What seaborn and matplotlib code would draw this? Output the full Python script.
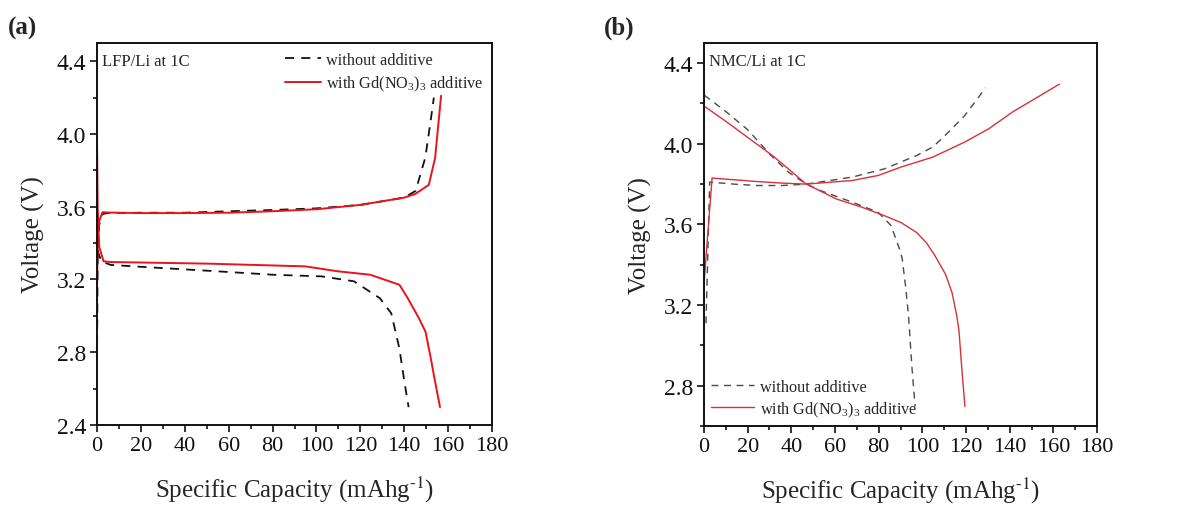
import numpy as np
import pandas as pd
import matplotlib
matplotlib.use("Agg")
import matplotlib.pyplot as plt
from matplotlib.ticker import MultipleLocator
import seaborn as sns

# (a) LFP/Li at 1C  -- capacity (mAh/g), voltage (V)
lfp_chg_wo_x = [0, 0.3, 1.0, 2.5, 5, 20, 40, 60, 80, 100, 120, 140, 145.2, 149.6, 151.9, 153.5]
lfp_chg_wo_v = [2.75, 3.30, 3.50, 3.56, 3.565, 3.567, 3.567, 3.575, 3.582, 3.591, 3.61, 3.65, 3.687, 3.87, 4.06, 4.20]
lfp_dis_wo_x = [0, 0.5, 2, 6.2, 21, 50.6, 80.2, 102.4, 117.1, 128.9, 134.1, 137.8, 140.1, 142.0]
lfp_dis_wo_v = [3.63, 3.35, 3.30, 3.28, 3.269, 3.248, 3.226, 3.217, 3.19, 3.097, 3.014, 2.82, 2.636, 2.498]
lfp_chg_w_x = [0, 0.4, 1.0, 2.5, 5, 20, 40, 60, 80, 100, 120, 140, 145, 151.2, 154.1, 155.6, 156.8]
lfp_chg_w_v = [3.15, 3.45, 3.52, 3.57, 3.568, 3.565, 3.565, 3.567, 3.575, 3.586, 3.61, 3.65, 3.67, 3.72, 3.87, 4.06, 4.21]
lfp_dis_w_x = [0, 0.3, 1.0, 3, 6.2, 50.6, 95, 109.7, 124.5, 137.8, 141.6, 146.7, 149.7, 151.9, 154.1, 156.3]
lfp_dis_w_v = [3.98, 3.60, 3.38, 3.30, 3.296, 3.287, 3.272, 3.245, 3.226, 3.171, 3.097, 2.987, 2.913, 2.78, 2.636, 2.498]

# (b) NMC/Li at 1C
nmc_chg_wo_x = [0.9, 2.6, 13.7, 23.9, 35.7, 46.7, 57.7, 68, 82.7, 97.4, 104.8, 112.1, 119.5, 129]
nmc_chg_wo_v = [3.11, 3.81, 3.80, 3.793, 3.793, 3.80, 3.818, 3.835, 3.876, 3.942, 3.984, 4.059, 4.141, 4.278]
nmc_dis_wo_x = [0.15, 10, 20, 30, 38.6, 46.7, 53.3, 68, 79.8, 85.7, 90.1, 90.8, 92.3, 93.7, 95.2, 96.7]
nmc_dis_wo_v = [4.241, 4.16, 4.07, 3.95, 3.86, 3.801, 3.768, 3.71, 3.66, 3.594, 3.461, 3.428, 3.295, 3.145, 2.896, 2.697]
nmc_chg_w_x = [0, 1.0, 3.7, 23.95, 35.7, 46.7, 68, 79.8, 90.1, 104.8, 119.5, 130.5, 141.5, 151.8, 162.8]
nmc_chg_w_v = [3.30, 3.45, 3.83, 3.813, 3.805, 3.80, 3.818, 3.843, 3.884, 3.934, 4.009, 4.075, 4.159, 4.225, 4.296]
nmc_dis_w_x = [0.15, 9.3, 16.6, 24.0, 31.3, 38.6, 46.7, 60.7, 72.4, 82.7, 90.1, 97.4, 101.8, 105.5,
               110.6, 113.6, 115.8, 116.8, 118.0, 119.5]
nmc_dis_w_v = [4.186, 4.117, 4.059, 4.0, 3.942, 3.876, 3.801, 3.726, 3.685, 3.643, 3.61, 3.56, 3.51, 3.45,
               3.353, 3.262, 3.145, 3.07, 2.896, 2.697]

lbl_wo = "without additive"
lbl_w = "with Gd(NO$_3$)$_3$ additive"
xlab = "Specific Capacity (mAhg$^{\\text{-1}}$)"

sns.set_theme(style="ticks")
plt.rcParams["font.family"] = ["Liberation Serif", "DejaVu Serif"]
plt.rcParams["mathtext.fontset"] = "stix"
plt.rcParams["mathtext.default"] = "regular"

fig = plt.figure(figsize=(11.93, 5.10), dpi=100)
ax1 = fig.add_axes([97 / 1193, 1 - 426 / 510, 395 / 1193, 382 / 510])
ax2 = fig.add_axes([704 / 1193, 1 - 427 / 510, 393 / 1193, 383 / 510])


def draw(ax, curves, red, black, lw_r, lw_k):
    for xs, vs, kind in curves:
        df = pd.DataFrame({"cap": xs, "volt": vs})
        if kind == "wo":
            sns.lineplot(data=df, x="cap", y="volt", ax=ax, sort=False, estimator=None,
                         color=black, lw=lw_k, linestyle=(0, (5, 4)))
        else:
            sns.lineplot(data=df, x="cap", y="volt", ax=ax, sort=False, estimator=None,
                         color=red, lw=lw_r)


draw(ax1, [(lfp_chg_wo_x, lfp_chg_wo_v, "wo"), (lfp_dis_wo_x, lfp_dis_wo_v, "wo"),
           (lfp_chg_w_x, lfp_chg_w_v, "w"), (lfp_dis_w_x, lfp_dis_w_v, "w")],
     "#e8141b", "#111111", 1.4, 1.3)
draw(ax2, [(nmc_chg_wo_x, nmc_chg_wo_v, "wo"), (nmc_dis_wo_x, nmc_dis_wo_v, "wo"),
           (nmc_chg_w_x, nmc_chg_w_v, "w"), (nmc_dis_w_x, nmc_dis_w_v, "w")],
     "#d9303a", "#4a4a4a", 1.0, 1.0)

for ax, ylo, yt in [(ax1, 2.4, np.arange(2.4, 4.41, 0.4)), (ax2, 2.6, np.arange(2.8, 4.41, 0.4))]:
    ax.set_xlim(0, 180)
    ax.set_ylim(ylo, 4.5)
    ax.set_xticks(np.arange(0, 181, 20))
    ax.set_yticks(yt)
    ax.set_yticklabels([f"{v:.1f}" for v in yt])
    ax.xaxis.set_minor_locator(MultipleLocator(10))
    ax.yaxis.set_minor_locator(MultipleLocator(0.2))
    ax.tick_params(which="both", direction="out", top=False, right=False,
                   width=1.2, colors="#111111", pad=3)
    ax.tick_params(axis="x", labelsize=16)
    ax.tick_params(axis="y", labelsize=17)
    ax.tick_params(which="major", length=5)
    ax.tick_params(which="minor", length=3)
    for s in ax.spines.values():
        s.set_linewidth(1.4)
        s.set_color("#111111")
    ax.set_xlabel(xlab, fontsize=18, labelpad=13)
    ax.set_ylabel("Voltage (V)", fontsize=18, labelpad=8)

ax1.text(0.012, 0.975, "LFP/Li at 1C", transform=ax1.transAxes, fontsize=12, va="top", ha="left")
ax2.text(0.012, 0.975, "NMC/Li at 1C", transform=ax2.transAxes, fontsize=12, va="top", ha="left")

h1 = [ax1.lines[0], ax1.lines[2]]
ax1.legend(h1, [lbl_wo, lbl_w], loc="upper right", frameon=False, fontsize=11.7,
           handlelength=2.2, handletextpad=0.3, labelspacing=0.35, borderaxespad=0.2,
           borderpad=0.35, bbox_to_anchor=(1.0, 1.0))
h2 = [ax2.lines[0], ax2.lines[2]]
ax2.legend(h2, [lbl_wo, lbl_w], loc="lower left", frameon=False, fontsize=11.7,
           handlelength=2.6, handletextpad=0.4, labelspacing=0.3, borderaxespad=0.25,
           borderpad=0.2, bbox_to_anchor=(0.0, 0.0))

fig.text(0.007, 0.945, "(a)", fontsize=18, fontweight="bold", va="center")
fig.text(0.506, 0.945, "(b)", fontsize=18, fontweight="bold", va="center")

fig.savefig("out.png", dpi=100)
